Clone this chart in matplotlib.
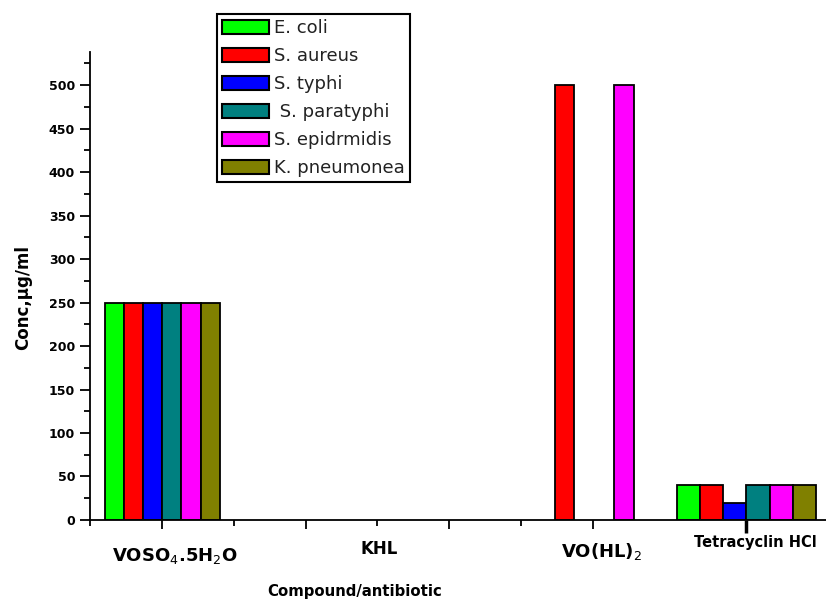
import matplotlib.pyplot as plt
import matplotlib.transforms as mtransforms
import numpy as np

compounds = ["VOSO$_4$.5H$_2$O", "KHL", "VO(HL)$_2$", "Tetracyclin HCl"]
strains = ["E. coli", "S. aureus", "S. typhi", " S. paratyphi", "S. epidrmidis", "K. pneumonea"]
colors = ["#00ff00", "#ff0000", "#0000ff", "#008080", "#ff00ff", "#808000"]

# concentration (ug/ml) per strain, same order as compounds
e_coli = [250, 0, 0, 40]
s_aureus = [250, 0, 500, 40]
s_typhi = [250, 0, 0, 20]
s_paratyphi = [250, 0, 0, 40]
s_epidrmidis = [250, 0, 500, 40]
k_pneumonea = [250, 0, 0, 40]
values = [e_coli, s_aureus, s_typhi, s_paratyphi, s_epidrmidis, k_pneumonea]

# layout of the groups (the original chart is not evenly spaced)
group_x = [1.0, 4.0, 7.02, 9.14]
bar_w = [0.267, 0.28, 0.275, 0.323]
label_x = [1.18, 4.02, 7.12, 9.26]
label_base = [561, 554, 557, 547]   # baseline, pixels from top
label_size = [13, 12, 13, 10.5]

fig = plt.figure(figsize=(8.26, 5.99), dpi=100)
ax = fig.add_axes([0.1095, 0.1319, 0.8905, 0.7813])

for i, (name, col, vals) in enumerate(zip(strains, colors, values)):
    xs, hs, ws = [], [], []
    for g in range(len(compounds)):
        if vals[g] > 0:
            xs.append(group_x[g] + (i - 2.5) * bar_w[g])
            hs.append(vals[g])
            ws.append(bar_w[g])
    ax.bar(xs, hs, width=ws, color=col, edgecolor="black", linewidth=1.3, label=name)

ax.set_xlim(0, 10.25)
ax.set_ylim(0, 538)
ax.spines["top"].set_visible(False)
ax.spines["right"].set_visible(False)
ax.spines["left"].set_linewidth(1.3)
ax.spines["bottom"].set_linewidth(1.3)

ax.set_yticks(np.arange(0, 501, 50))
ax.set_yticks(np.arange(25, 526, 50), minor=True)
ax.set_xticks([1, 3, 5, 7, group_x[3]])
ax.set_xticks([0, 2, 4, 6], minor=True)
ax.set_xticklabels([])
ax.tick_params(which="major", direction="out", length=7, width=1.3)
ax.tick_params(which="minor", direction="out", length=4, width=1.3)
ax.tick_params(axis="x", which="major", length=6.5)
ax.tick_params(axis="y", labelsize=9, pad=4)
ax.xaxis.get_major_ticks()[-1].tick1line.set_markeredgewidth(2.5)
ax.xaxis.get_major_ticks()[-1].tick1line.set_markersize(9)
for lab in ax.get_yticklabels():
    lab.set_fontweight("bold")

trans = mtransforms.blended_transform_factory(ax.transData, fig.transFigure)
for x, txt, base, fs in zip(label_x, compounds, label_base, label_size):
    ax.text(x, 1 - base / 599, txt, transform=trans, ha="center", va="baseline",
            fontsize=fs, fontweight="bold")

fig.text(0.028, 0.504, "Conc,µg/ml", rotation=90, ha="center", va="center",
         fontsize=12, fontweight="bold")
fig.text(0.429, 0.013, "Compound/antibiotic", ha="center", va="center",
         fontsize=10.7, fontweight="bold")

leg = ax.legend(loc="upper left", bbox_to_anchor=(217 / 826, 1 - 14 / 599),
                bbox_transform=fig.transFigure, fontsize=13, fancybox=False,
                edgecolor="black", framealpha=1, handlelength=2.6, handleheight=0.78,
                handletextpad=0.25, labelspacing=0.55, borderpad=0.3, borderaxespad=0,
                labelcolor="#222222")
leg.get_frame().set_linewidth(1.5)
for h in leg.legend_handles:
    h.set_linewidth(1.5)

fig.savefig("out.png", dpi=100)
